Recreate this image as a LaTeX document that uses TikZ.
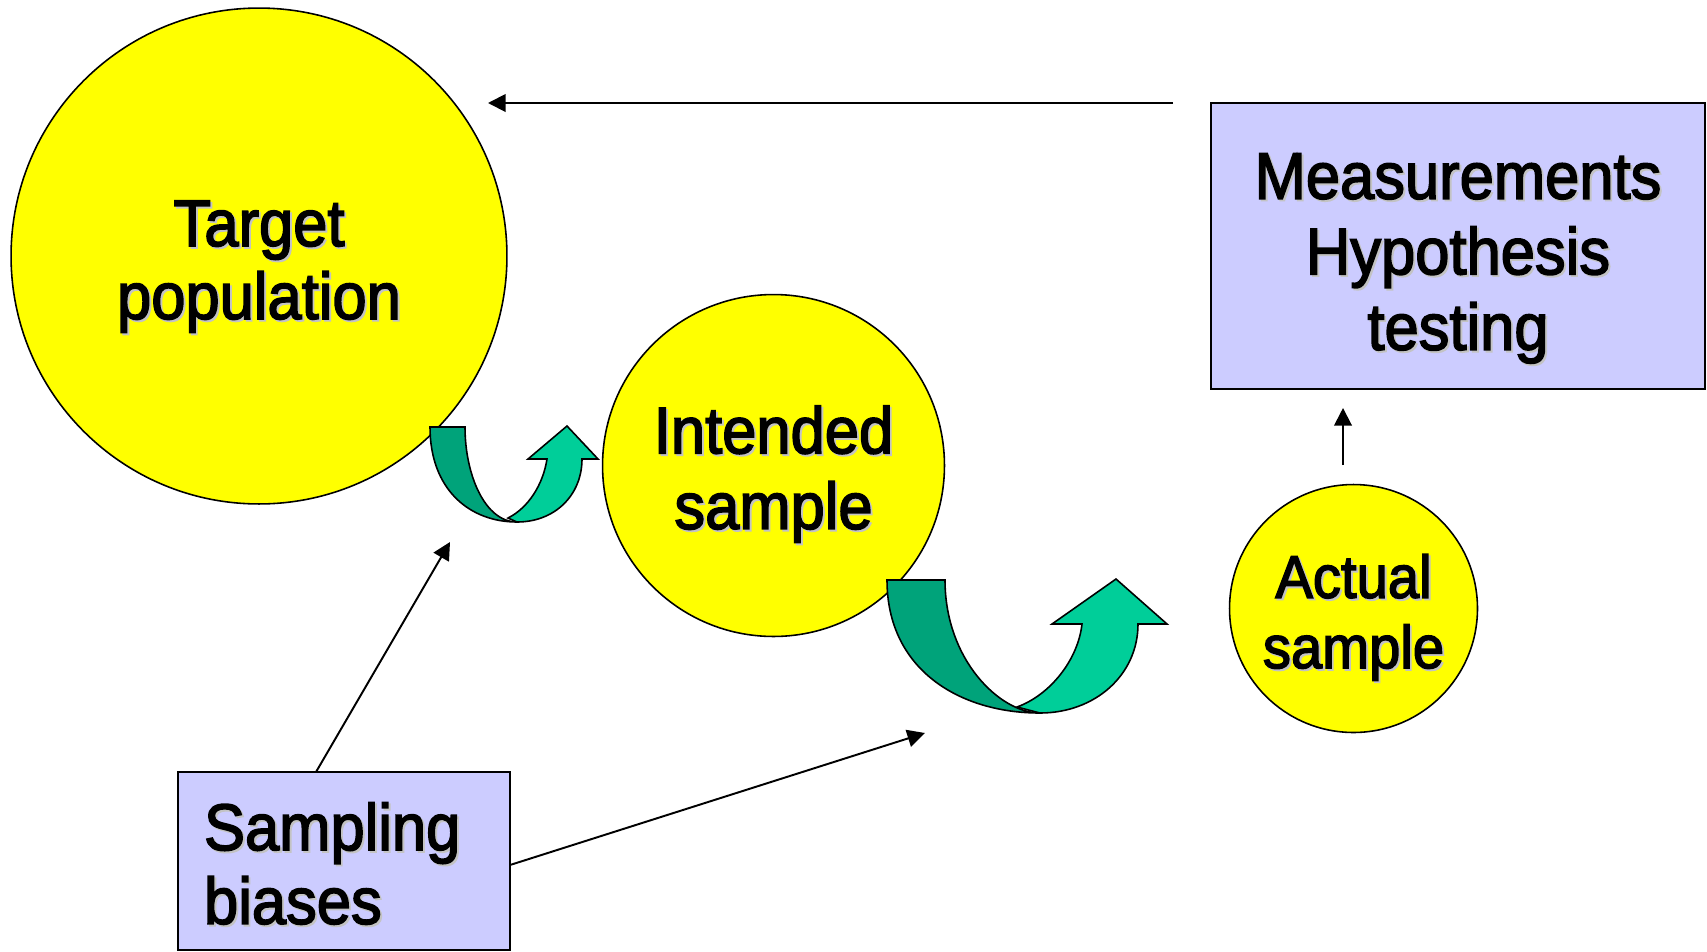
\documentclass[tikz,border=0pt]{standalone}
\usepackage{fontspec}
\usepackage{graphicx}
\setmainfont{Liberation Sans}[FakeBold=2.5]
\usetikzlibrary{arrows.meta}
\definecolor{yel}{RGB}{255,255,0}
\definecolor{lav}{RGB}{204,204,255}
\definecolor{gdark}{RGB}{0,163,122}
\definecolor{glight}{RGB}{0,206,153}
\definecolor{shadowc}{RGB}{195,195,195}
\newcommand\shd[1]{\leavevmode\rlap{\hspace{1.1pt}\raisebox{-1.1pt}{\textcolor{shadowc}{\scalebox{1}[1.07]{#1}}}}\scalebox{1}[1.07]{#1}}
\begin{document}
\begin{tikzpicture}[x=0.02cm,y=-0.02cm,
  bubble/.style={circle, draw=black, line width=0.9pt, fill=yel, inner sep=0pt, align=center},
  panel/.style={rectangle, draw=black, line width=0.9pt, fill=lav, inner sep=0pt},
  link/.style={line width=1.1pt, -{Triangle[length=10pt,width=10pt]}},
  uturn/.style={draw=black, line width=0.9pt, line join=miter}
]
\useasboundingbox (0,0) rectangle (1707,951);

% circles
\node[bubble, minimum size=9.92cm, font=\fontsize{35}{41.5}\selectfont] (tp) at (259,256) {\rule{0pt}{39pt}\shd{Target}\\\shd{population}};
\node[bubble, minimum size=6.84cm, font=\fontsize{35}{43}\selectfont] (is) at (773.5,465.5) {\rule{0pt}{38pt}\shd{Intended}\\\shd{sample}};
\node[bubble, minimum size=4.96cm, font=\fontsize{32}{40}\selectfont] (as) at (1353.5,608.5) {\rule{0pt}{36pt}\shd{Actual}\\\shd{sample}};

% boxes
\node[panel, minimum width=9.88cm, minimum height=5.72cm, align=center, font=\fontsize{35}{43}\selectfont] (mh) at (1458,246) {\rule{0pt}{41pt}\shd{Measurements}\\\shd{Hypothesis}\\\shd{testing}};
\node[panel, text width=5.6cm, inner xsep=0.52cm, minimum height=3.56cm, align=left, font=\fontsize{35}{42}\selectfont] (sb) at (344,861) {\rule{0pt}{31pt}\shd{Sampling}\\\shd{biases}};

% curved arrow 1
\filldraw[uturn, fill=glight] (508,518) -- (517,522) .. controls (555,522) and (582,495) .. (582,459) -- (598,459) -- (567,426) -- (528,459) -- (547,459) .. controls (543,485) and (528,508) .. (508,518) -- cycle;
\filldraw[uturn, fill=gdark] (430,427) -- (465,427) .. controls (465,475) and (485,522) .. (517,522) .. controls (470,522) and (430,490) .. (430,427) -- cycle;

% curved arrow 2
\filldraw[uturn, fill=glight] (1017,707) -- (1040,713) .. controls (1095,713) and (1138,675) .. (1138,624) -- (1167,624) -- (1116,579) -- (1052,624) -- (1082,624) .. controls (1078,660) and (1050,695) .. (1017,707) -- cycle;
\filldraw[uturn, fill=gdark] (887,580) -- (945,580) .. controls (945,660) and (1000,713) .. (1040,713) .. controls (960,713) and (887,670) .. (887,580) -- cycle;

% straight arrows
\coordinate (topS) at (1173,103);
\coordinate (topE) at (488,103);
\coordinate (upS) at (1343,465);
\coordinate (upE) at (1343,408);
\coordinate (b1S) at (316,772);
\coordinate (b1E) at (450,542);
\coordinate (b2S) at (510,865);
\coordinate (b2E) at (925,733);
\draw[link] (topS) -- (topE);
\draw[link] (upS) -- (upE);
\draw[link] (b1S) -- (b1E);
\draw[link] (b2S) -- (b2E);
\end{tikzpicture}
\end{document}
